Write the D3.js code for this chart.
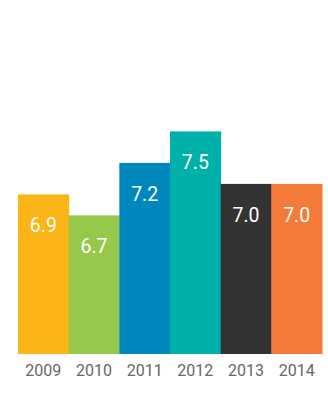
<!DOCTYPE html>
<html>
<head>
<meta charset="utf-8">
<script src="https://cdn.jsdelivr.net/npm/d3@7"></script>
<style>
    body { margin: 0; background: #fff; }
    svg { display: block; font-family: Roboto, "Noto Sans", sans-serif; }
</style>
</head>
<body>
<div id="chart"></div>
<script>
// Chart data
const years = ['2009', '2010', '2011', '2012', '2013', '2014'];
const values = [6.9, 6.7, 7.2, 7.5, 7.0, 7.0];
const colors = ['#FBB517', '#96C94B', '#0088BE', '#00B1A9', '#333333', '#F47A39'];

const width = 328;
const height = 396;
const margin = { top: 20, right: 6, bottom: 42, left: 18 };

const svg = d3.select('#chart')
    .append('svg')
    .attr('width', width)
    .attr('height', height);

const x = d3.scaleBand()
    .domain(years)
    .range([margin.left, width - margin.right])
    .padding(0);

// bars do not start at zero in the original
const y = d3.scaleLinear()
    .domain([5.38, 7.5])
    .range([height - margin.bottom, 131.4]);

// Bars
svg.selectAll('rect.bar')
    .data(values)
    .enter()
    .append('rect')
    .attr('class', 'bar')
    .attr('x', (d, i) => x(years[i]))
    .attr('y', d => y(d))
    .attr('width', x.bandwidth() + 0.5)
    .attr('height', d => y.range()[0] - y(d))
    .attr('fill', (d, i) => colors[i]);

// Value labels inside bars
svg.selectAll('text.value')
    .data(values)
    .enter()
    .append('text')
    .attr('class', 'value')
    .attr('x', (d, i) => x(years[i]) + x.bandwidth() / 2)
    .attr('y', d => y(d) + 38)
    .attr('text-anchor', 'middle')
    .attr('fill', '#fff')
    .attr('font-size', 19.5)
    .text(d => d.toFixed(1));

// Year axis
const axis = svg.append('g')
    .attr('transform', `translate(0,${height - margin.bottom})`)
    .call(d3.axisBottom(x).tickSize(0).tickPadding(11));

axis.select('.domain').remove();
axis.selectAll('text')
    .attr('font-size', 16)
    .attr('font-family', 'Roboto, sans-serif')
    .attr('fill', '#666');
</script>
</body>
</html>
